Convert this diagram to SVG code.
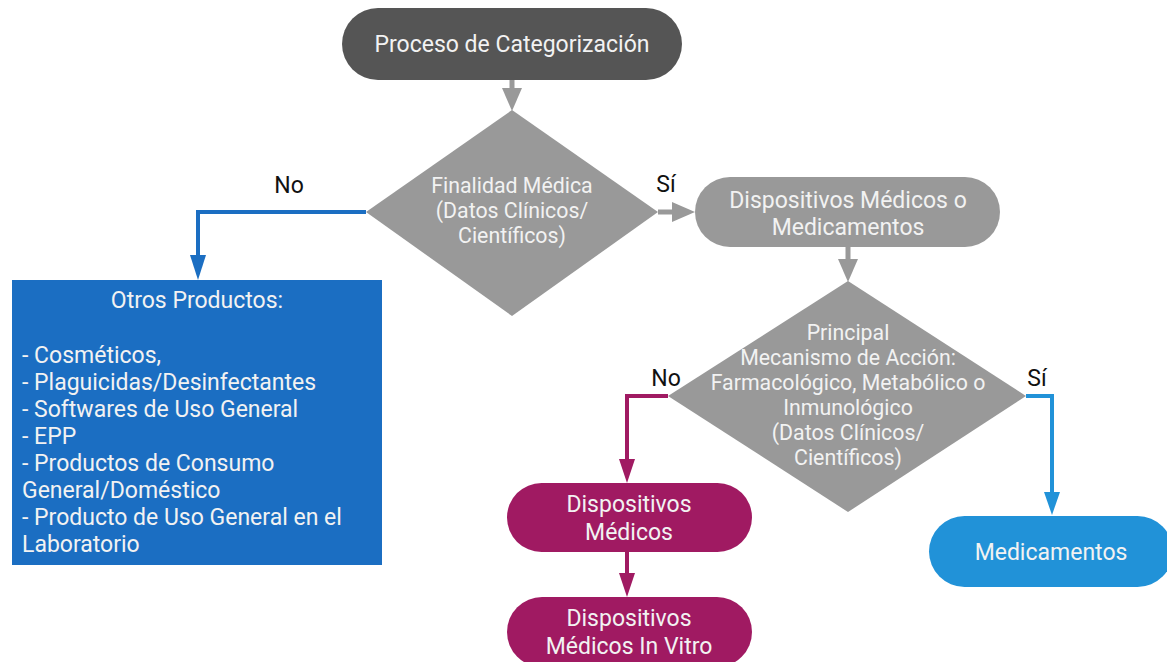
<svg xmlns="http://www.w3.org/2000/svg" width="1167" height="662" viewBox="0 0 1167 662">
<defs>
<style>
text{font-family:Roboto,"Liberation Sans",sans-serif;}
.t{fill:#f2f2f2;font-size:23px;text-anchor:middle;}
.d{fill:#f2f2f2;font-size:21.3px;text-anchor:middle;}
.tl{fill:#f2f2f2;font-size:23px;}
.lab{fill:#111;font-size:23px;text-anchor:middle;}
.gray{fill:#999999;}
.dark{fill:#555555;}
.blue{fill:#1b6ec2;}
.mag{fill:#a01a62;}
.lblue{fill:#2192d8;}
.cg{stroke:#999999;stroke-width:5;fill:none;}
.cb{stroke:#1b6ec2;stroke-width:4;fill:none;}
.cm{stroke:#a01a62;stroke-width:4;fill:none;}
.cl{stroke:#2192d8;stroke-width:4;fill:none;}
</style>
<marker id="ag" markerUnits="userSpaceOnUse" markerWidth="23" markerHeight="20" refX="0" refY="10" orient="auto"><path d="M0,0 L23,10 L0,20 z" fill="#999999"/></marker>
<marker id="ab" markerUnits="userSpaceOnUse" markerWidth="25" markerHeight="16" refX="0" refY="8" orient="auto"><path d="M0,0 L25,8 L0,16 z" fill="#1b6ec2"/></marker>
<marker id="am" markerUnits="userSpaceOnUse" markerWidth="24" markerHeight="16" refX="0" refY="8" orient="auto"><path d="M0,0 L24,8 L0,16 z" fill="#a01a62"/></marker>
<marker id="al" markerUnits="userSpaceOnUse" markerWidth="23" markerHeight="16" refX="0" refY="8" orient="auto"><path d="M0,0 L23,8 L0,16 z" fill="#2192d8"/></marker>
</defs>
<rect width="1167" height="662" fill="#ffffff"/>
<g id="connectors">
<path class="cg" d="M512,80 V88" marker-end="url(#ag)"/>
<path class="cg" d="M658,212 H672" marker-end="url(#ag)"/>
<path class="cg" d="M848,247 V259" marker-end="url(#ag)"/>
<path class="cb" d="M366,212 H198 V255" marker-end="url(#ab)"/>
<path class="cm" d="M668,396 H627 V459" marker-end="url(#am)"/>
<path class="cm" d="M627,552 V573" marker-end="url(#am)"/>
<path class="cl" d="M1026,396 H1052 V492" marker-end="url(#al)"/>
<text class="lab" x="289" y="193">No</text>
<text class="lab" x="666" y="192">Sí</text>
<text class="lab" x="666" y="386">No</text>
<text class="lab" x="1037" y="386">Sí</text>
</g>
<g id="start">
<rect class="dark" x="342" y="8" width="340" height="72" rx="36"/>
<text class="t" x="512" y="52" font-size="23.5">Proceso de Categorización</text>
</g>
<g id="decision1">
<polygon class="gray" points="512,110 658,212 512,316 366,212"/>
<text class="d" x="512" y="193">Finalidad Médica</text>
<text class="d" x="512" y="218">(Datos Clínicos/</text>
<text class="d" x="512" y="243">Científicos)</text>
</g>
<g id="otros">
<rect class="blue" x="12" y="280" width="370" height="285"/>
<text class="t" x="197" y="308">Otros Productos:</text>
<text class="tl" x="22" y="363">- Cosméticos,</text>
<text class="tl" x="22" y="390">- Plaguicidas/Desinfectantes</text>
<text class="tl" x="22" y="417">- Softwares de Uso General</text>
<text class="tl" x="22" y="444">- EPP</text>
<text class="tl" x="22" y="471">- Productos de Consumo</text>
<text class="tl" x="22" y="498">General/Doméstico</text>
<text class="tl" x="22" y="525">- Producto de Uso General en el</text>
<text class="tl" x="22" y="552">Laboratorio</text>
</g>
<g id="dmm">
<rect class="gray" x="695" y="177" width="305" height="70" rx="35"/>
<text class="t" x="848" y="208">Dispositivos Médicos o</text>
<text class="t" x="848" y="235">Medicamentos</text>
</g>
<g id="decision2">
<polygon class="gray" points="848,281 1026,396 848,512 668,396"/>
<text class="d" x="848" y="340">Principal</text>
<text class="d" x="848" y="365">Mecanismo de Acción:</text>
<text class="d" x="848" y="390">Farmacológico, Metabólico o</text>
<text class="d" x="848" y="415">Inmunológico</text>
<text class="d" x="848" y="440">(Datos Clínicos/</text>
<text class="d" x="848" y="465">Científicos)</text>
</g>
<g id="dm">
<rect class="mag" x="507" y="483" width="245" height="69" rx="34.5"/>
<text class="t" x="629" y="512">Dispositivos</text>
<text class="t" x="629" y="540">Médicos</text>
</g>
<g id="dmiv">
<rect class="mag" x="507" y="597" width="245" height="70" rx="35"/>
<text class="t" x="629" y="626">Dispositivos</text>
<text class="t" x="629" y="654">Médicos In Vitro</text>
</g>
<g id="medicamentos">
<rect class="lblue" x="929" y="516" width="244" height="71" rx="35.5"/>
<text class="t" x="1051" y="560">Medicamentos</text>
</g>
</svg>
